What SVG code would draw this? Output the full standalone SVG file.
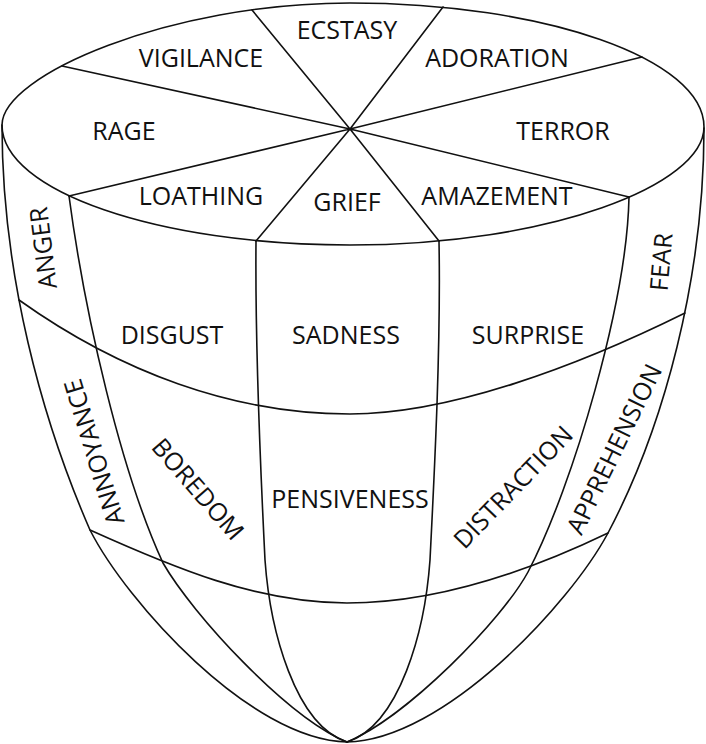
<svg xmlns="http://www.w3.org/2000/svg" width="706" height="744" viewBox="0 0 706 744">
<style>
.l{fill:none;stroke:#111;stroke-width:1.6;stroke-linecap:round;stroke-linejoin:round}
text{font-family:"Open Sans","Noto Sans","DejaVu Sans",sans-serif;font-size:25px;fill:#111;text-anchor:middle}
</style>
<rect width="706" height="744" fill="#fff"/>
<g id="connectors" class="l">
<path d="M2,125 C2,75 170,3 350,3 C545,3 704,59 704,127 C704,185 550,245 350,245 C158,245 2,191 2,125 Z"/>
<path d="M350,129 L62,66 M350,129 L252,10 M350,129 L443,7 M350,129 L642,57 M350,129 L629,197 M350,129 L439,241 M350,129 L256,241 M350,129 L69,196"/>
<path d="M2,125 C2,275 42,420 90,530 C126,601 250,740 347,742"/>
<path d="M704,128 C704,278 664,427 608,533 C570,604 444,740 347,742"/>
<path d="M69,196 C85,316 121,472 163,563 C193,615 287,717 347,742"/>
<path d="M629,197 C627,300 574,484 528,572 C502,620 407,717 347,742"/>
<path d="M256,241 C255,350 261,480 265,560 C270,630 295,725 347,742"/>
<path d="M439,241 C441,350 434,480 430,560 C425,630 400,725 347,742"/>
<path d="M19,300 C120,372 233,414 350,414 C450,414 578,366 685,313"/>
<path d="M90,530 C172,567 257,603 347,603 C437,603 527,572 608,533"/>
</g>
<g id="ecstasy"><text x="347" y="39">ECSTASY</text></g>
<g id="vigilance"><text x="201" y="67">VIGILANCE</text></g>
<g id="adoration"><text x="497" y="67">ADORATION</text></g>
<g id="rage"><text x="124" y="140">RAGE</text></g>
<g id="terror"><text x="563" y="140">TERROR</text></g>
<g id="loathing"><text x="201" y="205">LOATHING</text></g>
<g id="grief"><text x="347" y="211">GRIEF</text></g>
<g id="amazement"><text x="497" y="205">AMAZEMENT</text></g>
<g id="disgust"><text x="172" y="344">DISGUST</text></g>
<g id="sadness"><text x="346" y="344">SADNESS</text></g>
<g id="surprise"><text x="528" y="344">SURPRISE</text></g>
<g id="pensiveness"><text x="350" y="508">PENSIVENESS</text></g>
<g id="anger"><text transform="translate(43,248) rotate(-97)" x="0" y="9">ANGER</text></g>
<g id="fear"><text transform="translate(661,262) rotate(-85)" x="0" y="9">FEAR</text></g>
<g id="annoyance"><text transform="translate(94,452) rotate(-107)" x="0" y="9">ANNOYANCE</text></g>
<g id="boredom"><text transform="translate(198,489) rotate(49)" x="0" y="9">BOREDOM</text></g>
<g id="distraction"><text transform="translate(513,487) rotate(-46)" x="0" y="9">DISTRACTION</text></g>
<g id="apprehension"><text transform="translate(614,449) rotate(-64)" x="0" y="9">APPREHENSION</text></g>
</svg>
